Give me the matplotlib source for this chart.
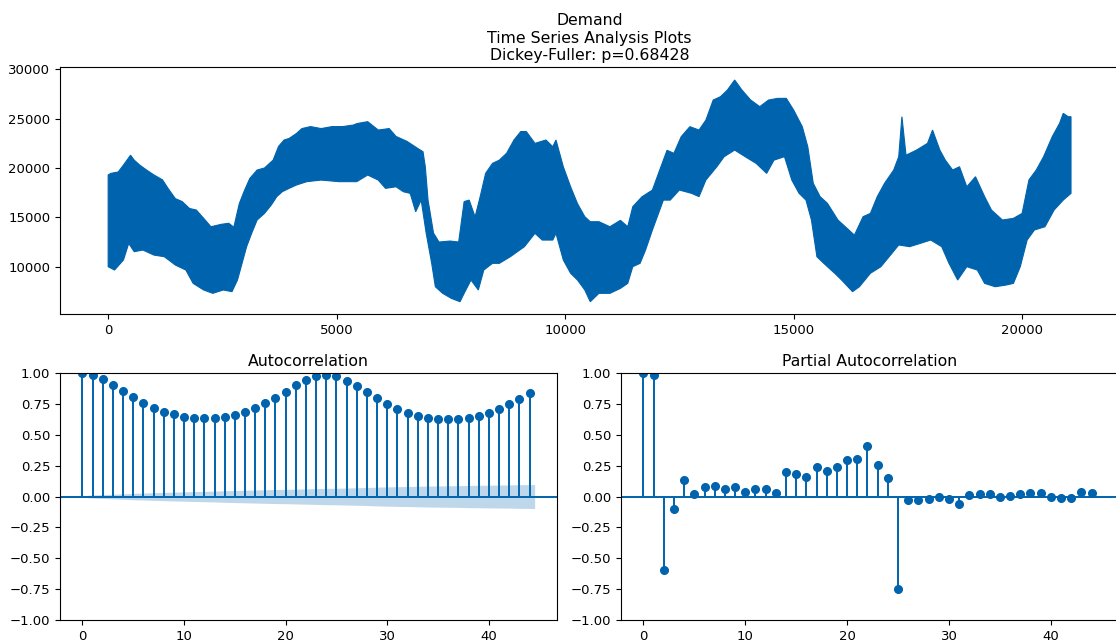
import matplotlib
matplotlib.use("Agg")
import matplotlib.pyplot as plt
import numpy as np

hi_x = [0, 60, 220, 335, 490, 570, 690, 840, 1000, 1190, 1310, 1470, 1620, 1780,
        1930, 2090, 2250, 2480, 2640, 2750, 2870, 2990, 3100, 3260, 3420, 3610,
        3730, 3850, 3960, 4120, 4240, 4430, 4660, 4900, 5130, 5370, 5440, 5680,
        5910, 6150, 6300, 6540, 6770, 6890, 6940, 7000, 7120, 7240, 7480, 7670,
        7790, 7900, 8030, 8140, 8260, 8410, 8560, 8720, 8880, 9030, 9150, 9340,
        9580, 9730, 9800, 9960, 10120, 10270, 10430, 10550, 10740, 10980, 11210,
        11370, 11480, 11680, 11910, 12070, 12230, 12380, 12540, 12730, 12930,
        13080, 13240, 13400, 13550, 13710, 13870, 14060, 14260, 14450, 14650,
        14840, 15000, 15190, 15310, 15430, 15580, 15740, 15970, 16130, 16330,
        16520, 16680, 16830, 16990, 17190, 17300, 17370, 17460, 17690, 17930,
        18040, 18200, 18320, 18480, 18630, 18790, 18980, 19180, 19330, 19570,
        19810, 20000, 20150, 20310, 20470, 20660, 20820, 20900, 21010, 21070]
hi_y = [19300, 19460, 19600, 20300, 21300, 20800, 20300, 19800, 19300, 18800,
        17940, 16900, 16600, 15900, 15740, 14900, 14050, 14300, 14400, 14000,
        16400, 17800, 18950, 19800, 20000, 20800, 22200, 22840, 23000, 23500,
        24000, 24200, 24000, 24200, 24200, 24360, 24500, 24700, 23850, 24000,
        23200, 22700, 22000, 21650, 20130, 16750, 13400, 12500, 12600, 12500,
        16600, 16750, 15050, 17080, 19460, 20470, 20800, 21500, 22840, 23700,
        23700, 22500, 22840, 22160, 22840, 20130, 18100, 16400, 15070, 14560,
        14560, 14050, 14700, 14050, 16080, 17080, 17770, 19800, 21800, 21490,
        23180, 24190, 23850, 24860, 26890, 27230, 27900, 28920, 27900, 26890,
        26220, 26890, 27060, 27060, 25880, 24190, 22160, 18450, 17100, 16420,
        14730, 14050, 13200, 15070, 15400, 17100, 18450, 19800, 21150, 25200,
        21300, 21820, 22500, 23850, 21820, 20800, 19800, 20130, 18100, 19120,
        17100, 15740, 14730, 14900, 15400, 18800, 19800, 21150, 23180, 24530,
        25540, 25200, 25200]

lo_x = [0, 140, 335, 450, 570, 760, 1000, 1230, 1470, 1700,
        1860, 2090, 2290, 2520, 2710, 2830, 2950, 3030, 3140, 3260,
        3420, 3570, 3690, 3810, 3960, 4120, 4350, 4660, 5050, 5440,
        5680, 5910, 6070, 6300, 6460, 6610, 6730, 6850, 6960, 7080,
        7160, 7320, 7510, 7700, 7790, 7940, 8100, 8220, 8410, 8560,
        8800, 9110, 9340, 9500, 9730, 9800, 9960, 10120, 10270, 10430,
        10550, 10740, 10980, 11210, 11370, 11480, 11640, 11760, 11910, 12150,
        12300, 12500, 12770, 12930, 13080, 13320, 13480, 13710, 13940, 14180,
        14410, 14570, 14800, 14960, 15120, 15270, 15390, 15510, 15660, 15900,
        16050, 16290, 16440, 16680, 16910, 17150, 17300, 17540, 17770, 18000,
        18240, 18400, 18590, 18790, 19020, 19180, 19410, 19650, 19810, 19960,
        20110, 20270, 20500, 20700, 20900, 21070]
lo_y = [10000, 9660, 10680, 12360, 11520, 11690, 11180, 11010, 10170, 9660,
        8310, 7640, 7300, 7640, 7470, 8650, 10680, 12030, 13380, 14730,
        15400, 16250, 17100, 17600, 17940, 18280, 18620, 18780, 18620, 18620,
        19290, 18780, 17940, 18100, 17600, 17430, 15570, 16750, 13380, 10340,
        7970, 7300, 6790, 6450, 7300, 8650, 7640, 9660, 10340, 10340,
        11010, 12030, 13380, 12700, 12700, 13380, 10680, 9330, 8650, 7640,
        6450, 7300, 7300, 7800, 8310, 10000, 10340, 11690, 13720, 16750,
        16750, 17770, 17430, 17100, 18780, 20130, 21150, 21820, 21150, 20470,
        19460, 20800, 21150, 18780, 17430, 16750, 14730, 11010, 10340, 9330,
        8650, 7470, 7970, 9330, 10000, 11350, 12200, 12030, 12360, 12700,
        12030, 10340, 8650, 10000, 9660, 8310, 7970, 8140, 8310, 10000,
        12700, 13720, 14050, 15740, 16750, 17430]

# --- correlograms, lags 0..44 ---
lags = np.arange(45)
acf_vals = [1.00, 0.984, 0.949, 0.903, 0.857, 0.806, 0.760, 0.720, 0.687, 0.666,
            0.647, 0.639, 0.636, 0.640, 0.647, 0.663, 0.685, 0.714, 0.755, 0.800,
            0.849, 0.900, 0.940, 0.973, 0.984, 0.973, 0.938, 0.895, 0.846, 0.798,
            0.752, 0.709, 0.679, 0.655, 0.639, 0.631, 0.628, 0.631, 0.639, 0.655,
            0.679, 0.709, 0.749, 0.792, 0.841]
acf_band = [0.010, 0.013, 0.016, 0.019, 0.022, 0.026, 0.028, 0.031, 0.033, 0.036,
            0.038, 0.040, 0.042, 0.044, 0.047, 0.049, 0.051, 0.053, 0.055, 0.057,
            0.058, 0.060, 0.062, 0.064, 0.066, 0.067, 0.069, 0.071, 0.073, 0.076,
            0.078, 0.080, 0.081, 0.083, 0.085, 0.086, 0.087, 0.088, 0.090, 0.091,
            0.092, 0.093, 0.094, 0.096, 0.097]
pacf_vals = [1.00, 0.984, -0.598, -0.10, 0.13, 0.02, 0.08, 0.086, 0.057, 0.075,
             0.035, 0.06, 0.062, 0.032, 0.20, 0.18, 0.16, 0.24, 0.21, 0.237,
             0.296, 0.30, 0.412, 0.256, 0.15, -0.752, -0.03, -0.03, -0.019, -0.005,
             -0.024, -0.057, 0.011, 0.019, 0.019, 0.0, 0.003, 0.019, 0.027, 0.027,
             0.0, -0.013, -0.011, 0.035, 0.03]

col = '#0063ad'
plt.rcParams['font.size'] = 9.5

fig = plt.figure(figsize=(11.16, 6.43), dpi=100)
ts_ax = fig.add_axes([0.0538, 0.5117, 0.949, 0.384])
acf_ax = fig.add_axes([0.0538, 0.0358, 0.4453, 0.384])
pacf_ax = fig.add_axes([0.5565, 0.0358, 0.4462, 0.384])

# time series band
ts_ax.fill(hi_x + lo_x[::-1], hi_y + lo_y[::-1], color=col, lw=0.8, ec=col)
ts_ax.set_xlim(-1053, 22123)
ts_ax.set_ylim(5208, 30233)
ts_ax.set_xticks([0, 5000, 10000, 15000, 20000])
ts_ax.set_yticks([10000, 15000, 20000, 25000, 30000])
ts_ax.set_title('Demand\nTime Series Analysis Plots\nDickey-Fuller: p=0.68428',
                fontsize=11.3, pad=5)


def corr_plot(ax, vals, title, band=None):
    ax.vlines(lags, 0, vals, color=col, lw=1.4)
    ax.plot(lags, vals, 'o', color=col, ms=5.5)
    ax.axhline(0, color=col, lw=1.4)
    if band is not None:
        bx = lags.astype(float)
        bx[0] += 0.5
        bx[-1] += 0.5
        b = np.array(band)
        ax.fill_between(bx, -b, b, color=col, alpha=0.25, lw=0)
    ax.set_xlim(-2.2, 46.7)
    ax.set_ylim(-1, 1)
    ax.set_yticks(np.arange(-1, 1.01, 0.25))
    ax.set_xticks([0, 10, 20, 30, 40])
    ax.set_title(title, fontsize=11.3, pad=5)


corr_plot(acf_ax, acf_vals, 'Autocorrelation', acf_band)
corr_plot(pacf_ax, pacf_vals, 'Partial Autocorrelation')

fig.savefig('out.png', dpi=100)
